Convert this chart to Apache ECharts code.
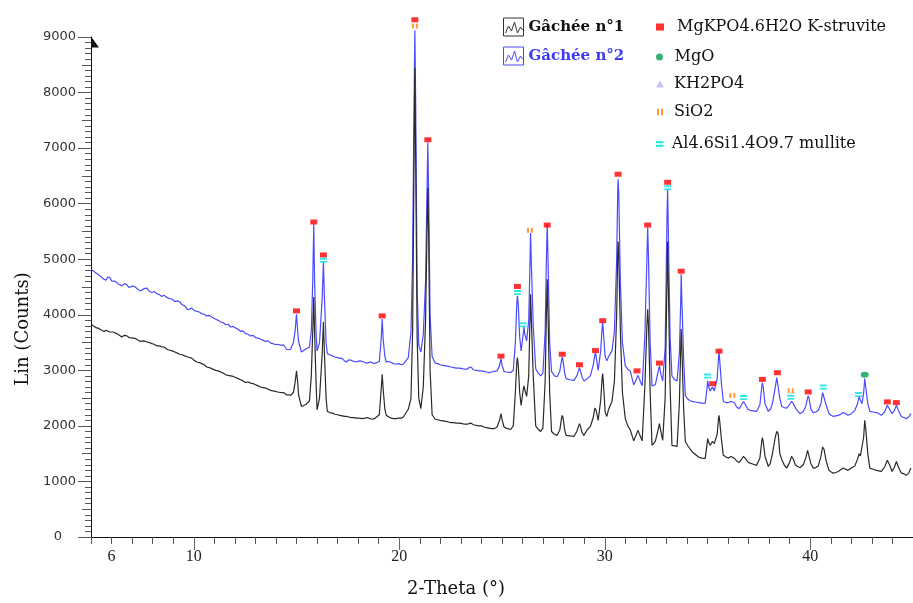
<!DOCTYPE html>
<html><head><meta charset="utf-8">
<script src="https://cdn.jsdelivr.net/npm/echarts@6/dist/echarts.min.js"></script>
<style>html,body{margin:0;padding:0;background:#fff}#c{width:913px;height:603px}</style>
</head><body><div id="c"></div>
<script>
// 2-Theta positions (degrees) shared by both scans
const theta = [
  5.0,5.12,5.24,5.34,5.44,5.53,5.63,5.73,5.82,5.92,6.0,6.07,6.19,6.31,6.4,6.5,6.62,6.75,
  6.85,6.94,7.06,7.18,7.3,7.43,7.57,7.72,7.84,7.96,8.08,8.2,8.33,8.45,8.55,8.64,8.74,8.83,8.95,9.08,
  9.2,9.32,9.44,9.56,9.71,9.8,9.9,10.02,10.15,10.27,10.39,10.51,10.63,10.75,10.87,11.07,11.19,11.31,
  11.43,11.55,11.67,11.8,11.92,12.04,12.16,12.28,12.4,12.52,12.64,12.77,12.89,13.01,13.13,13.25,13.38,13.5,13.62,13.74,
  13.86,13.98,14.08,14.17,14.27,14.37,14.51,14.61,14.71,14.85,14.93,15.0,15.06,15.1,15.24,15.44,
  15.63,15.72,15.79,15.84,15.88,15.95,16.0,16.12,16.25,16.31,16.36,16.44,16.5,
  16.62,16.75,16.87,16.99,17.11,17.23,17.33,17.43,17.55,17.67,17.79,17.91,18.05,18.2,18.33,18.45,18.57,18.69,18.79,18.88,
  19.03,19.12,19.17,19.22,19.3,19.37,19.49,19.61,19.73,19.85,19.97,20.1,20.2,20.29,20.44,
  20.57,20.65,20.72,20.76,20.8,20.87,20.95,21.05,21.17,21.28,21.35,21.39,21.43,21.5,21.6,
  21.75,21.87,21.99,22.13,22.27,22.4,22.52,22.65,22.77,22.92,23.06,
  23.18,23.3,23.4,23.5,23.6,23.69,23.88,24.0,24.13,24.25,24.37,24.49,24.61,24.76,24.88,24.95,25.01,
  25.1,25.2,25.42,25.55,25.65,25.72,25.75,25.79,25.86,25.93,26.03,26.07,26.11,26.2,26.3,26.36,26.39,26.43,26.52,26.64,
  26.76,26.88,26.99,27.1,27.16,27.2,27.24,27.32,27.41,27.55,27.68,27.81,27.9,27.93,27.97,28.05,28.12,
  28.3,28.5,28.64,28.73,28.77,28.81,28.9,28.98,29.15,29.3,29.44,29.52,29.55,29.58,29.68,29.8,29.87,29.9,29.93,30.02,
  30.1,30.19,30.35,30.47,30.58,30.63,30.65,30.68,30.76,30.86,31.0,31.12,31.24,31.41,31.55,31.62,31.68,31.82,
  31.95,32.05,32.09,32.13,32.21,32.3,32.46,32.58,32.66,32.72,32.82,32.94,33.03,33.06,33.09,33.18,33.27,
  33.4,33.52,33.63,33.7,33.72,33.75,33.84,33.92,34.08,34.24,34.4,34.56,34.72,34.89,34.97,35.01,35.06,35.13,35.24,35.33,
  35.47,35.54,35.56,35.59,35.68,35.77,35.9,36.02,36.14,36.21,36.3,36.42,36.54,36.66,36.75,36.85,36.96,37.07,37.23,37.39,
  37.55,37.64,37.67,37.71,37.8,37.96,38.06,38.16,38.3,38.37,38.4,38.44,38.52,38.61,38.73,38.85,38.98,39.09,39.18,39.27,
  39.38,39.5,39.66,39.78,39.87,39.9,39.94,40.03,40.15,40.27,40.39,40.52,40.6,40.63,40.67,40.77,40.91,41.02,41.12,41.24,
  41.36,41.48,41.6,41.72,41.84,42.0,42.17,42.3,42.38,42.44,42.52,42.6,42.65,42.7,42.8,42.9,43.06,43.22,43.34,43.46,43.62,
  43.75,43.86,43.98,44.1,44.19,44.3,44.43,44.55,44.67,44.79,44.9
];
// Gâchée n°2 (blue) counts
const gachee2 = [
  4810,4790,4750,4730,4700,4690,4640,4620,4680,4670,4610,4590,4600,4560,4540,4520,4560,4540,
  4490,4470,4520,4490,4450,4430,4470,4480,4420,4400,4420,4380,4360,4330,4350,4380,4300,4270,4280,4240,
  4250,4230,4180,4160,4090,4110,4120,4080,4060,4050,4020,4010,3980,3990,3960,3920,3900,3870,
  3860,3820,3830,3780,3790,3760,3740,3700,3710,3660,3650,3620,3630,3590,3580,3560,3540,3520,3530,3490,
  3480,3460,3470,3440,3450,3460,3380,3370,3380,3500,3700,4010,3700,3520,3330,3380,
  3420,3700,4600,5630,4600,3700,3350,3500,4300,4945,4300,3500,3300,
  3280,3260,3240,3230,3220,3210,3170,3150,3190,3180,3160,3150,3170,3160,3140,3130,3150,3140,3120,3110,
  3160,3550,3925,3550,3250,3150,3160,3140,3120,3110,3120,3100,3110,3140,3230,
  3690,5000,7800,9120,7800,4500,3450,3330,3650,4600,6200,7100,6200,4000,3250,
  3130,3120,3100,3090,3080,3070,3060,3050,3040,3040,3030,
  3020,3020,3050,3060,3010,3000,2990,2990,2980,2970,2960,2970,2980,2990,3080,3210,3080,
  2980,2970,2960,3000,3500,4200,4340,4200,3600,3350,3650,3780,3650,3530,3900,4900,5470,4900,3800,3030,
  2950,2900,2950,3700,5000,5630,5000,3500,2980,2900,2885,2980,3180,3240,3180,2950,2850,
  2830,2820,2900,3000,3050,3000,2880,2810,2850,2900,3100,3280,3320,3250,3000,3350,3750,3870,3700,3250,
  3170,3250,3350,3700,5000,6200,6440,6200,4600,3500,3080,3020,2990,2740,2850,2910,2850,2720,
  3600,5000,5570,5000,3500,2720,2740,2950,3080,2950,2810,3400,5800,6250,5600,3600,2900,
  2830,2810,3300,4300,4730,4300,3200,2540,2470,2440,2430,2420,2410,2410,2650,2810,2700,2630,2700,2630,
  2850,3250,3330,3200,2750,2440,2420,2420,2440,2470,2420,2340,2310,2380,2440,2380,2300,2280,2270,2260,
  2380,2700,2780,2700,2400,2260,2300,2400,2700,2870,2900,2850,2500,2350,2330,2320,2380,2440,2400,2330,
  2270,2220,2260,2350,2500,2540,2500,2300,2240,2250,2280,2400,2600,2630,2580,2380,2220,2190,2170,2180,
  2190,2210,2240,2220,2190,2220,2280,2400,2530,2460,2400,2600,2850,2700,2400,2260,2250,2240,2220,2190,2250,
  2370,2300,2220,2280,2370,2270,2170,2150,2130,2160,2220
];
// Gâchée n°1 (black) counts
const gachee1 = [
  3835,3800,3770,3760,3740,3730,3700,3720,3700,3690,3700,3690,3670,3650,3640,3600,3630,3620,
  3590,3560,3580,3570,3540,3520,3530,3510,3500,3480,3470,3440,3440,3420,3420,3390,3370,3350,3350,3330,
  3310,3290,3280,3260,3240,3230,3220,3180,3150,3140,3120,3100,3060,3050,3030,3000,2990,2970,
  2950,2920,2910,2900,2890,2870,2850,2830,2810,2780,2790,2770,2760,2740,2720,2700,2690,2680,2660,2640,
  2630,2620,2610,2620,2600,2600,2560,2560,2550,2600,2780,2990,2780,2560,2350,2380,
  2450,2900,3700,4320,3700,2800,2290,2500,3300,3870,3300,2500,2260,
  2240,2230,2210,2200,2190,2180,2170,2170,2160,2150,2150,2140,2140,2130,2140,2150,2130,2120,2130,2130,
  2200,2650,2930,2650,2300,2190,2160,2140,2130,2130,2140,2140,2160,2180,2300,
  2490,3700,6800,8440,6800,3600,2500,2310,2700,3900,5500,6290,5500,3000,2200,
  2120,2110,2100,2090,2080,2070,2060,2060,2050,2050,2040,
  2030,2030,2040,2050,2020,2010,2000,2000,1980,1970,1960,1950,1950,1980,2100,2220,2100,
  1980,1960,1935,2000,2600,3150,3230,3100,2600,2370,2650,2720,2650,2530,2900,3900,4370,3900,2900,2000,
  1940,1900,1960,2800,4000,4640,4000,2600,1900,1850,1830,1920,2150,2190,2150,1930,1830,
  1820,1810,1900,2000,2040,2000,1880,1830,1930,1990,2150,2320,2350,2280,2100,2450,2850,2940,2800,2250,
  2170,2300,2440,2800,4000,5100,5320,5100,3700,2600,2130,2000,1930,1730,1860,1920,1860,1730,
  2700,3800,4100,3800,2600,1650,1720,1900,2040,1920,1740,2500,4700,5320,4600,2700,1650,
  1640,1630,2400,3450,3745,3450,2300,1720,1620,1540,1490,1440,1420,1415,1650,1770,1700,1650,1720,1680,
  1850,2150,2190,2100,1750,1470,1440,1420,1450,1470,1420,1370,1340,1400,1450,1410,1350,1330,1310,1290,
  1420,1720,1790,1720,1450,1270,1330,1500,1800,1900,1920,1860,1500,1400,1300,1240,1330,1450,1400,1300,
  1270,1250,1300,1420,1560,1580,1540,1320,1240,1250,1280,1450,1620,1650,1580,1380,1200,1170,1150,1160,
  1180,1210,1240,1220,1200,1240,1280,1400,1500,1460,1450,1800,2100,1950,1500,1240,1220,1200,1190,1180,1260,
  1380,1300,1180,1260,1360,1250,1150,1140,1110,1150,1240
];
// Phase markers [2-theta, counts]
const struvite = [[15.0,4070],[15.84,5670],[16.31,5077],[19.17,3980],[20.76,9310],[21.39,7150],
  [24.95,3256],[25.75,4510],[27.2,5615],[27.93,3290],[28.77,3100],[29.55,3356],[29.9,3894],
  [30.65,6530],[31.57,2990],[32.09,5615],[32.66,3130],[33.06,6385],[33.72,4785],[35.25,2760],
  [35.56,3346],[37.67,2837],[38.4,2957],[39.9,2611],[43.75,2432],[44.19,2419]];
const mgo = [[42.65,2921]];
const kh2po4 = [];
const sio2 = [[20.76,9200],[26.36,5520],[36.21,2545],[39.05,2634]];
const mullite = [[16.31,4980],[25.75,4400],[26.02,3820],[33.06,6285],[35.0,2898],[36.75,2510],
  [39.05,2514],[40.63,2700],[42.35,2563]];
const xTickLabels = [6,10,20,30,40];
const xMajorTicks = [10,20,30,40];
const yMidTicks = [500,1500,2500,3500,4500,5500,6500,7500,8500];

const zip = (xs, ys) => xs.map((x, i) => [x, ys[i]]);
const intTicks = []; for (let v = 5; v <= 45; v++) intTicks.push(v);

const serif = 'DejaVu Serif';
const SYM_MULLITE = 'path://M0,0H10V3H0Z M0,5H10V8H0Z';
const SYM_SIO2 = 'path://M0,0H3V10H0Z M6,0H9V10H6Z';
const ICON_SCAN = 'path://M0,0H20V18H0Z M2,15L5,8L8,13L11,4L14,15L17,9L19,12';

const chart = echarts.init(document.getElementById('c'), null, {renderer: 'canvas'});
function mkLegend(name, left, top, iw, ih, pad, color, bold, extra) {
  return Object.assign({
    data: [name], left: left, top: top, itemWidth: iw, itemHeight: ih,
    selectedMode: false, padding: 0,
    textStyle: {fontFamily: serif, fontSize: bold ? 15 : 16, fontWeight: bold ? 'bold' : 'normal',
      color: color, lineHeight: 20, padding: [0, 0, 0, pad]}
  }, extra || {});
}
chart.setOption({
  animation: false,
  backgroundColor: '#fff',
  grid: {left: 91, right: 0, top: 37, bottom: 64},
  legend: [
    mkLegend('Gâchée n°1', 503, 17, 20, 18, 0, '#111', true,
      {icon: ICON_SCAN, itemStyle: {color: 'transparent', borderColor: '#333', borderWidth: 1}}),
    mkLegend('Gâchée n°2', 503, 46, 20, 18, 0, '#3c3cf0', true,
      {icon: ICON_SCAN, itemStyle: {color: 'transparent', borderColor: '#4a4aff', borderWidth: 1}}),
    mkLegend('MgKPO4.6H2O K-struvite', 656, 17, 8, 7, 8, '#111', false),
    mkLegend('MgO', 656, 47, 8, 7, 6, '#111', false),
    mkLegend('KH2PO4', 656, 74, 8, 7, 5, '#111', false),
    mkLegend('SiO2', 657, 102, 6, 7, 6, '#111', false),
    mkLegend('Al4.6Si1.4O9.7 mullite', 656, 134, 8, 6, 3, '#111', false)
  ],
  xAxis: [{
    type: 'value', min: 5, max: 45, interval: 1,
    name: '2-Theta (°)', nameLocation: 'middle', nameGap: 43,
    nameTextStyle: {fontFamily: serif, fontSize: 18, color: '#111', padding: [0, 92, 0, 0]},
    axisLine: {show: true, lineStyle: {color: '#111', width: 1}},
    axisTick: {show: true, length: 7, customValues: intTicks, lineStyle: {color: '#555'}},
    axisLabel: {customValues: xTickLabels, margin: 12, fontFamily: 'Liberation Serif', fontSize: 16, color: '#222'},
    splitLine: {show: false}
  }, {
    type: 'value', min: 5, max: 45, position: 'bottom', offset: 0,
    axisLine: {show: false},
    axisTick: {show: true, length: 13, customValues: xMajorTicks, lineStyle: {color: '#666'}},
    axisLabel: {show: false}, splitLine: {show: false}
  }],
  yAxis: [{
    type: 'value', min: 0, max: 9000, interval: 1000,
    name: 'Lin (Counts)', nameLocation: 'middle', nameGap: 54,
    nameTextStyle: {fontFamily: serif, fontSize: 18, color: '#111', padding: [0, 84, 0, 0]},
    axisLine: {show: true, lineStyle: {color: '#111', width: 1},
      symbol: ['none', 'path://M0,0L0,0M8,0L8,11L16,11Z'], symbolSize: [16, 11], symbolOffset: [0, -5]},
    axisTick: {show: true, length: 13, lineStyle: {color: '#555'}},
    minorTick: {show: true, splitNumber: 10, length: 6, lineStyle: {color: '#555'}},
    axisLabel: {margin: 15, fontFamily: 'DejaVu Sans', fontSize: 13, color: '#333',
      formatter: v => v === 0 ? '{z|0}' : String(v),
      rich: {z: {fontFamily: 'DejaVu Sans', fontSize: 13, color: '#333', padding: [0, 14, 0, 0]}}},
    splitLine: {show: false}
  }, {
    type: 'value', min: 0, max: 9000, position: 'left', offset: 0,
    axisLine: {show: false},
    axisTick: {show: true, length: 9, customValues: yMidTicks, lineStyle: {color: '#555'}},
    axisLabel: {show: false}, splitLine: {show: false}
  }],
  series: [
    {name: 'Gâchée n°2', type: 'line', data: zip(theta, gachee2), symbol: 'none', showSymbol: false,
      clip: false, z: 2, lineStyle: {color: '#4a4aff', width: 1.2}, itemStyle: {color: '#4a4aff'}},
    {name: 'Gâchée n°1', type: 'line', data: zip(theta, gachee1), symbol: 'none', showSymbol: false,
      clip: false, z: 3, lineStyle: {color: '#2a2a2a', width: 1.2}, itemStyle: {color: '#2a2a2a'}},
    {name: 'MgKPO4.6H2O K-struvite', type: 'scatter', data: struvite, symbol: 'rect', symbolSize: [7, 5],
      clip: false, z: 5, itemStyle: {color: '#ff0000'}},
    {name: 'MgO', type: 'scatter', data: mgo, symbol: 'circle', symbolSize: [8, 6],
      clip: false, z: 5, itemStyle: {color: '#00a050'}},
    {name: 'KH2PO4', type: 'scatter', data: kh2po4, symbol: 'triangle', symbolSize: [8, 7],
      clip: false, z: 5, itemStyle: {color: '#b4b4f4'}},
    {name: 'SiO2', type: 'scatter', data: sio2, symbol: SYM_SIO2, symbolSize: [6, 5],
      clip: false, z: 5, itemStyle: {color: '#ff8000'}},
    {name: 'Al4.6Si1.4O9.7 mullite', type: 'scatter', data: mullite, symbol: SYM_MULLITE, symbolSize: [7, 5],
      clip: false, z: 5, itemStyle: {color: '#00e0e8'}}
  ]
});
(function check(){ if (theta.length !== gachee1.length || theta.length !== gachee2.length) console.error('len', theta.length, gachee1.length, gachee2.length); })();
</script></body></html>
